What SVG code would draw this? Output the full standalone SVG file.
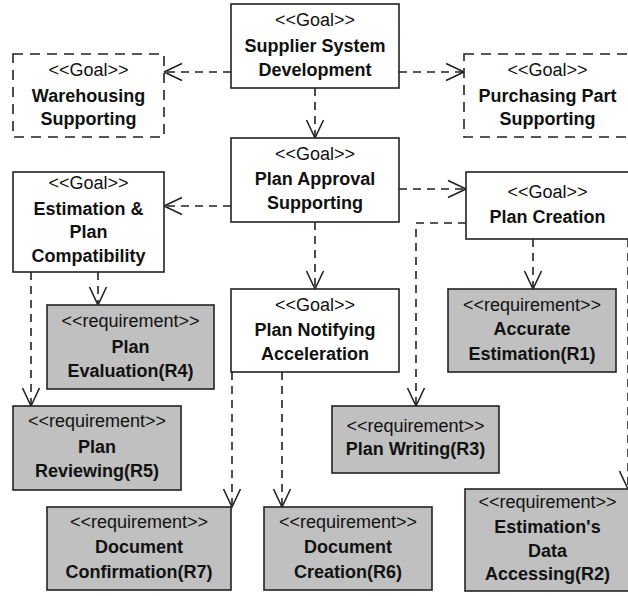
<svg xmlns="http://www.w3.org/2000/svg" width="628" height="596" viewBox="0 0 628 596">
<style>
.goal{fill:#ffffff;stroke:#222;stroke-width:1.6}
.goald{fill:#ffffff;stroke:#222;stroke-width:1.6;stroke-dasharray:10,7}
.req{fill:#c0c0c0;stroke:#222;stroke-width:1.6}
.st{font-family:"Liberation Sans",Arial,sans-serif;font-size:18px;fill:#111;text-anchor:middle}
.nm{font-family:"Liberation Sans",Arial,sans-serif;font-size:18px;font-weight:bold;fill:#111;text-anchor:middle}
.c{fill:none;stroke:#222;stroke-width:1.6;stroke-dasharray:8,6;marker-end:url(#arr)}
</style>
<defs>
<marker id="arr" markerUnits="userSpaceOnUse" markerWidth="24" markerHeight="24" viewBox="-20 -12 24 24" refX="0" refY="0" orient="auto">
<path d="M-18,-8.5 L0,0 L-18,8.5" fill="none" stroke="#222" stroke-width="1.6"/>
</marker>
</defs>
<g id="connectors">
<path class="c" d="M231,72 L164,72"/>
<path class="c" d="M399,72 L464,72"/>
<path class="c" d="M315,88 L315,138"/>
<path class="c" d="M231,206 L164,206"/>
<path class="c" d="M399,189 L466,189"/>
<path class="c" d="M315,222 L315,289"/>
<path class="c" d="M533,239 L533,289"/>
<path class="c" d="M466,223 L416,223 L416,406"/>
<path class="c" d="M98,272 L98,305"/>
<path class="c" d="M31,272 L31,406"/>
<path class="c" d="M232,372 L232,507"/>
<path class="c" d="M282,372 L282,507"/>
<path class="c" d="M628,239 L628,489"/>
</g>
<g id="supplier">
<rect class="goal" x="231" y="4" width="168" height="84"/>
<text class="st" x="315" y="26">&lt;&lt;Goal&gt;&gt;</text>
<text class="nm" x="315" y="52">Supplier System</text>
<text class="nm" x="315" y="76">Development</text>
</g>
<g id="warehousing">
<rect class="goald" x="13" y="54" width="151" height="83"/>
<text class="st" x="88.5" y="76">&lt;&lt;Goal&gt;&gt;</text>
<text class="nm" x="88.5" y="102">Warehousing</text>
<text class="nm" x="88.5" y="125">Supporting</text>
</g>
<g id="purchasing">
<rect class="goald" x="464" y="54" width="167" height="83"/>
<text class="st" x="547.5" y="76">&lt;&lt;Goal&gt;&gt;</text>
<text class="nm" x="547.5" y="102">Purchasing Part</text>
<text class="nm" x="547.5" y="125">Supporting</text>
</g>
<g id="planApproval">
<rect class="goal" x="231" y="138" width="168" height="84"/>
<text class="st" x="315" y="160">&lt;&lt;Goal&gt;&gt;</text>
<text class="nm" x="315" y="185">Plan Approval</text>
<text class="nm" x="315" y="209">Supporting</text>
</g>
<g id="estimationCompat">
<rect class="goal" x="13" y="172" width="151" height="100"/>
<text class="st" x="88.5" y="189">&lt;&lt;Goal&gt;&gt;</text>
<text class="nm" x="88.5" y="215">Estimation &amp;</text>
<text class="nm" x="88.5" y="238">Plan</text>
<text class="nm" x="88.5" y="262">Compatibility</text>
</g>
<g id="planCreation">
<rect class="goal" x="466" y="172" width="166" height="67"/>
<text class="st" x="547.5" y="198">&lt;&lt;Goal&gt;&gt;</text>
<text class="nm" x="547.5" y="223">Plan Creation</text>
</g>
<g id="planNotifying">
<rect class="goal" x="231" y="289" width="168" height="83"/>
<text class="st" x="315" y="311">&lt;&lt;Goal&gt;&gt;</text>
<text class="nm" x="315" y="336">Plan Notifying</text>
<text class="nm" x="315" y="360">Acceleration</text>
</g>
<g id="r1">
<rect class="req" x="448" y="289" width="168" height="83"/>
<text class="st" x="532" y="311">&lt;&lt;requirement&gt;&gt;</text>
<text class="nm" x="532" y="335">Accurate</text>
<text class="nm" x="532" y="360">Estimation(R1)</text>
</g>
<g id="r4">
<rect class="req" x="47" y="305" width="167" height="84"/>
<text class="st" x="130.5" y="327">&lt;&lt;requirement&gt;&gt;</text>
<text class="nm" x="130.5" y="353">Plan</text>
<text class="nm" x="130.5" y="377">Evaluation(R4)</text>
</g>
<g id="r5">
<rect class="req" x="13" y="406" width="168" height="84"/>
<text class="st" x="97" y="427">&lt;&lt;requirement&gt;&gt;</text>
<text class="nm" x="97" y="453">Plan</text>
<text class="nm" x="97" y="477">Reviewing(R5)</text>
</g>
<g id="r3">
<rect class="req" x="332" y="406" width="167" height="67"/>
<text class="st" x="415.5" y="432">&lt;&lt;requirement&gt;&gt;</text>
<text class="nm" x="415.5" y="455">Plan Writing(R3)</text>
</g>
<g id="r7">
<rect class="req" x="47" y="507" width="184" height="83"/>
<text class="st" x="139" y="528">&lt;&lt;requirement&gt;&gt;</text>
<text class="nm" x="139" y="553">Document</text>
<text class="nm" x="139" y="578">Confirmation(R7)</text>
</g>
<g id="r6">
<rect class="req" x="264" y="507" width="168" height="83"/>
<text class="st" x="348" y="528">&lt;&lt;requirement&gt;&gt;</text>
<text class="nm" x="348" y="553">Document</text>
<text class="nm" x="348" y="578">Creation(R6)</text>
</g>
<g id="r2">
<rect class="req" x="465" y="489" width="166" height="102"/>
<text class="st" x="547.5" y="508">&lt;&lt;requirement&gt;&gt;</text>
<text class="nm" x="547.5" y="533">Estimation's</text>
<text class="nm" x="547.5" y="557">Data</text>
<text class="nm" x="547.5" y="580">Accessing(R2)</text>
</g>
</svg>
